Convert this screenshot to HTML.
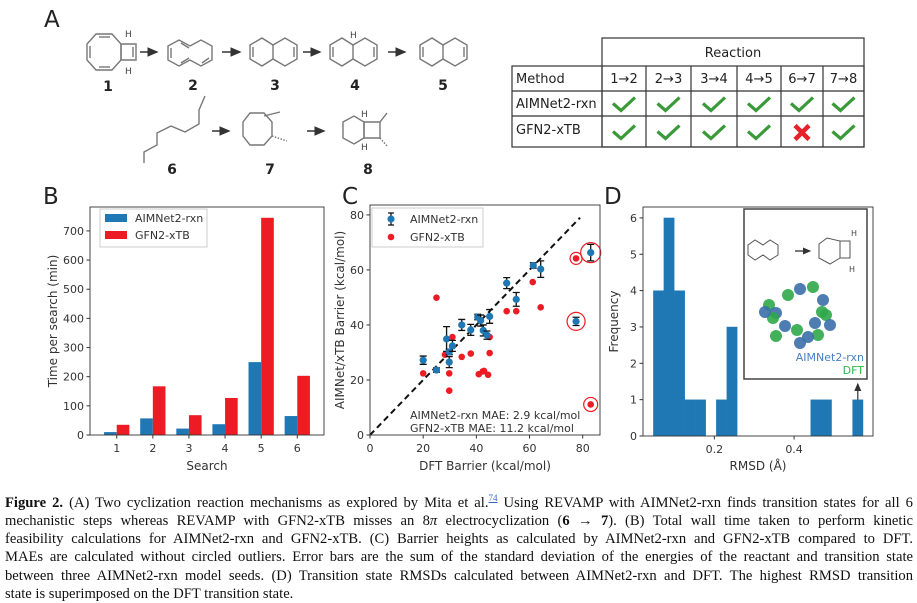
<!DOCTYPE html>
<html><head><meta charset="utf-8">
<style>
html,body{margin:0;padding:0;background:#fff;}
body{width:917px;height:602px;position:relative;overflow:hidden;}
svg{position:absolute;left:0;top:0;}
text{font-family:"DejaVu Sans","Liberation Sans",sans-serif;}
#caption{position:absolute;left:5px;top:489px;width:908px;font-family:"Liberation Serif",serif;font-size:14.6px;line-height:18.2px;color:#111;}
#caption div{text-align:justify;text-align-last:justify;white-space:nowrap;}
#caption div.last{text-align-last:left;}
</style></head><body>
<svg id="fig" width="917" height="602" viewBox="0 0 917 602" xmlns="http://www.w3.org/2000/svg">
<defs>
<marker id="ah" markerWidth="8" markerHeight="8" refX="6" refY="3" orient="auto"><path d="M0,0 L7,3 L0,6 z" fill="#333"/></marker>
</defs>
<text x="44" y="27" font-size="23" fill="#222">A</text>
<text x="43" y="204" font-size="23" fill="#222">B</text>
<text x="342" y="204" font-size="23" fill="#222">C</text>
<text x="604" y="204" font-size="23" fill="#222">D</text>

<g id="mol" stroke="#777" stroke-width="1.4" fill="none">
 <polygon points="96,34 112,34 121,44 121,60 112,70 96,70 87,60 87,44"/>
 <polygon points="121,44 136,44 136,60 121,60"/>
 <line x1="99" y1="37" x2="110" y2="37"/><line x1="90" y1="46" x2="90" y2="58"/><line x1="99" y1="67" x2="110" y2="67"/><line x1="133" y1="47" x2="133" y2="57"/>
 <polygon points="168,46 179,40 190,46 201,40 212,46 212,60 201,66 190,60 179,66 168,60"/>
 <line x1="171" y1="48" x2="171" y2="58"/><line x1="181" y1="43" x2="189" y2="48"/><line x1="202" y1="63" x2="209" y2="58"/><line x1="181" y1="63" x2="189" y2="58"/>
 <polygon points="250,45 262,38 273,45 285,38 297,45 297,59 285,66 273,59 262,66 250,59"/><line x1="273" y1="45" x2="273" y2="59"/>
 <line x1="253" y1="47" x2="253" y2="57"/><line x1="294" y1="47" x2="294" y2="57"/>
 <polygon points="330,45 342,38 353,45 365,38 377,45 377,59 365,66 353,59 342,66 330,59"/><line x1="353" y1="45" x2="353" y2="59"/>
 <line x1="333" y1="47" x2="333" y2="57"/><line x1="374" y1="47" x2="374" y2="57"/>
 <polygon points="420,45 432,38 443,45 455,38 467,45 467,59 455,66 443,59 432,66 420,59"/><line x1="443" y1="45" x2="443" y2="59"/>
 <line x1="423" y1="47" x2="423" y2="57"/><line x1="464" y1="47" x2="464" y2="57"/>
 <polyline points="144,163 144,152 157,145 157,133 171,126 185,132 199,124 199,110 205,96"/>
 <polygon points="250,113 264,113 272,122 272,136 264,145 250,145 243,136 243,122"/>
 <line x1="264" y1="116" x2="280" y2="112"/><line x1="272" y1="136" x2="287" y2="141" stroke-dasharray="1.5,1.5"/>
 <polygon points="343,122 354,116 364,122 364,138 354,144 343,138"/>
 <polygon points="364,122 380,122 380,138 364,138"/><line x1="380" y1="122" x2="387" y2="113"/><line x1="380" y1="138" x2="388" y2="147" stroke-dasharray="1.5,1.5"/>
</g>
<g fill="#444" font-size="9">
 <text x="125" y="37">H</text><text x="125" y="74">H</text><text x="350" y="38">H</text>
 <text x="361" y="117">H</text><text x="361" y="150">H</text>
</g>
<g stroke="#333" stroke-width="1.6" marker-end="url(#ah)">
 <line x1="140" y1="52" x2="157" y2="52"/><line x1="222" y1="52" x2="240" y2="52"/><line x1="303" y1="52" x2="320" y2="52"/><line x1="388" y1="52" x2="405" y2="52"/>
 <line x1="212" y1="131" x2="229" y2="131"/><line x1="307" y1="131" x2="324" y2="131"/>
</g>
<g font-size="14" font-weight="bold" fill="#222" text-anchor="middle">
 <text x="108" y="91">1</text><text x="193" y="90">2</text><text x="275" y="90">3</text><text x="355" y="90">4</text><text x="443" y="90">5</text>
 <text x="172" y="174">6</text><text x="270" y="174">7</text><text x="368" y="174">8</text>
</g>

<g id="tbl"></g>
<g id="chartB"></g>
<g id="chartC"></g>
<g id="chartD"></g>
</svg>

<div id="caption">
<div><b>Figure 2.</b> (A) Two cyclization reaction mechanisms as explored by Mita et al.<sup style="font-size:9px;color:#36c;text-decoration:underline">74</sup> Using REVAMP with AIMNet2-rxn finds transition states for all 6</div>
<div>mechanistic steps whereas REVAMP with GFN2-xTB misses an 8<i>π</i> electrocyclization (<b>6</b> → <b>7</b>). (B) Total wall time taken to perform kinetic</div>
<div>feasibility calculations for AIMNet2-rxn and GFN2-xTB. (C) Barrier heights as calculated by AIMNet2-rxn and GFN2-xTB compared to DFT.</div>
<div>MAEs are calculated without circled outliers. Error bars are the sum of the standard deviation of the energies of the reactant and transition state</div>
<div>between three AIMNet2-rxn model seeds. (D) Transition state RMSDs calculated between AIMNet2-rxn and DFT. The highest RMSD transition</div>
<div class="last">state is superimposed on the DFT transition state.</div>
</div>

<script>
const NS="http://www.w3.org/2000/svg";
function mk(p,tag,at,txt){const e=document.createElementNS(NS,tag);for(const k in at)e.setAttribute(k,at[k]);if(txt!==undefined)e.textContent=txt;p.appendChild(e);return e;}

const tableCols=["1→2","2→3","3→4","4→5","6→7","7→8"];
const tableMethods=["AIMNet2-rxn","GFN2-xTB"];
const tableResults=[[1,1,1,1,1,1],[1,1,1,1,0,1]];
(function(){
 const g=document.getElementById('tbl');
 const xs=[512,602,646,691,737,781,823,864], ys=[38,66,91,116,147];
 const st={stroke:"#333","stroke-width":1.2};
 mk(g,'rect',Object.assign({x:602,y:38,width:262,height:109,fill:"none"},st));
 mk(g,'rect',Object.assign({x:512,y:66,width:352,height:81,fill:"none"},st));
 for(let i=2;i<ys.length-1;i++) mk(g,'line',Object.assign({x1:512,x2:864,y1:ys[i],y2:ys[i]},st));
 for(let i=1;i<xs.length-1;i++) mk(g,'line',Object.assign({x1:xs[i],x2:xs[i],y1:66,y2:147},st));
 const h=mk(g,'text',{x:733,y:57,"font-size":13,"text-anchor":"middle",fill:"#222"},"Reaction");
 
 
 mk(g,'text',{x:516,y:83,"font-size":13,fill:"#222"},"Method");
 tableCols.forEach((c,i)=>{const t=mk(g,'text',{x:(xs[i+1]+xs[i+2])/2,y:83,"font-size":13,"text-anchor":"middle",fill:"#222"},c);
  
  });
 tableMethods.forEach((m,r)=>{
  mk(g,'text',{x:516,y:r===0?108:134,"font-size":13,fill:"#222"},m);
  tableResults[r].forEach((v,i)=>{
   const cx=(xs[i+1]+xs[i+2])/2, cy=(ys[r+2]+ys[r+3])/2+1;
   let e;
   if(v) e=mk(g,'path',{d:`M${cx-11},${cy-1} L${cx-3},${cy+6} L${cx+11},${cy-7}`,stroke:"#3a9a3a","stroke-width":3.2,fill:"none"});
   else e=mk(g,'path',{d:`M${cx-7},${cy-7} L${cx+7},${cy+7} M${cx+7},${cy-7} L${cx-7},${cy+7}`,stroke:"#e8202a","stroke-width":4.5,fill:"none"});
   
   
  });
 });
})();

const searchCats=["1","2","3","4","5","6"];
const aimnetTime=[10,57,22,37,250,65];
const gfnTime=[35,167,68,127,745,203];
const bYTicks=[0,100,200,300,400,500,600,700];
(function(){
 const g=document.getElementById('chartB');
 const L=90,R=324,T=207,B=435,ymax=782;
 const sx=i=>L+(i+0.74)/(6.48)*(R-L), sy=v=>B-v/ymax*(B-T);
 const bw=0.35/6.48*(R-L);
 searchCats.forEach((c,i)=>{
  const b1=mk(g,'rect',{x:sx(i)-bw,y:sy(aimnetTime[i]),width:bw,height:B-sy(aimnetTime[i]),fill:"#1f77b4"});
  
  
  const b2=mk(g,'rect',{x:sx(i),y:sy(gfnTime[i]),width:bw,height:B-sy(gfnTime[i]),fill:"#ed1c24"});
  
  
  mk(g,'line',{x1:sx(i),x2:sx(i),y1:B,y2:B+3.5,stroke:"#333"});
  mk(g,'text',{x:sx(i),y:B+17,"font-size":11,"text-anchor":"middle",fill:"#333"},c);
 });
 bYTicks.forEach(v=>{mk(g,'line',{x1:L-3.5,x2:L,y1:sy(v),y2:sy(v),stroke:"#333"});
  mk(g,'text',{x:L-6,y:sy(v)+4,"font-size":11,"text-anchor":"end",fill:"#333"},v);});
 const ax=mk(g,'rect',{x:L,y:T,width:R-L,height:B-T,fill:"none",stroke:"#333","stroke-width":0.9});
 
 
 const xt=mk(g,'text',{x:(L+R)/2,y:470,"font-size":12,"text-anchor":"middle",fill:"#333"},"Search");
 
 
 const yt=mk(g,'text',{x:0,y:0,"font-size":12,"text-anchor":"middle",fill:"#333",transform:`translate(57,${(T+B)/2}) rotate(-90)`},"Time per search (min)");
 
 
 const lg=mk(g,'g',{});
 
 
 mk(lg,'rect',{x:100,y:209,width:107,height:38,fill:"#fff",stroke:"#ccc"});
 mk(lg,'rect',{x:105,y:214,width:22,height:8,fill:"#1f77b4"});
 mk(lg,'text',{x:135,y:222,"font-size":11,fill:"#333"},"AIMNet2-rxn");
 mk(lg,'rect',{x:105,y:231,width:22,height:8,fill:"#ed1c24"});
 mk(lg,'text',{x:135,y:239,"font-size":11,fill:"#333"},"GFN2-xTB");
})();

const aimDFT=[20,25,28.8,29.8,29.8,31,34.5,37.9,40.5,41.6,42.6,44,45,51.4,55,61.4,64.2,77.5,83];
const aimPred=[27.2,23.6,34.9,30.2,26.5,32.4,40,38.2,42.9,41.6,38,36.3,43.1,55.2,49.3,61.6,60.3,41.3,66.3];
const aimErr=[1.5,0.8,4.5,1,2,2,2,2,1,2,2,1.5,2.5,2,2.5,1,3,1.5,3];
const gfnDFT=[20,25,28.2,31,29.8,29.8,34.5,37.9,40.9,42.4,42.9,44.4,45,45,51.4,55,61.2,64.2,77.5,83];
const gfnPred=[22.4,49.9,29.2,35.6,22.4,16.1,28.4,29.6,22.1,23.1,23.3,21.9,35.6,29.8,45,45,55.6,46.4,64.2,11.1];
const outlierX=[77.5,83,77.5,83];
const outlierY=[64.2,66.3,41.3,11.1];
const outlierR=[6,10,9,7];
const cTicks=[0,20,40,60,80];
(function(){
 const g=document.getElementById('chartC');
 const L=370,R=600,T=205,B=435,xmax=86.5,ymax=83.6;
 const sx=v=>L+v/xmax*(R-L), sy=v=>B-v/ymax*(B-T);
 cTicks.forEach(v=>{
  mk(g,'line',{x1:sx(v),x2:sx(v),y1:B,y2:B+3.5,stroke:"#333"});
  mk(g,'text',{x:sx(v),y:B+17,"font-size":11,"text-anchor":"middle",fill:"#333"},v);
  mk(g,'line',{x1:L-3.5,x2:L,y1:sy(v),y2:sy(v),stroke:"#333"});
  mk(g,'text',{x:L-6,y:sy(v)+4,"font-size":11,"text-anchor":"end",fill:"#333"},v);
 });
 const dl=mk(g,'line',{x1:sx(0),y1:sy(0),x2:sx(79),y2:sy(79),stroke:"#111","stroke-width":2,"stroke-dasharray":"6,4"});
 
 
 gfnDFT.forEach((x,i)=>{const c=mk(g,'circle',{cx:sx(x),cy:sy(gfnPred[i]),r:3.3,fill:"#ed1c24"});
  
  });
 aimDFT.forEach((x,i)=>{
  const px=sx(x),y1=sy(aimPred[i]-aimErr[i]),y2=sy(aimPred[i]+aimErr[i]);
  mk(g,'path',{d:`M${px},${y1}L${px},${y2}M${px-3.5},${y1}L${px+3.5},${y1}M${px-3.5},${y2}L${px+3.5},${y2}`,stroke:"#111","stroke-width":1.3,fill:"none"});
  const c=mk(g,'circle',{cx:px,cy:sy(aimPred[i]),r:3.6,fill:"#1f77b4"});
  
  
 });
 outlierX.forEach((x,i)=>{const c=mk(g,'circle',{cx:sx(x),cy:sy(outlierY[i]),r:outlierR[i],fill:"none",stroke:"#ed1c24","stroke-width":1.2});
  
  });
 const ax=mk(g,'rect',{x:L,y:T,width:R-L,height:B-T,fill:"none",stroke:"#333","stroke-width":0.9});
 
 
 mk(g,'text',{x:410,y:419,"font-size":11,fill:"#333"},"AIMNet2-rxn MAE: 2.9 kcal/mol");
 mk(g,'text',{x:410,y:432,"font-size":11,fill:"#333"},"GFN2-xTB MAE: 11.2 kcal/mol");
 const xt=mk(g,'text',{x:(L+R)/2,y:470,"font-size":12,"text-anchor":"middle",fill:"#333"},"DFT Barrier (kcal/mol)");
 
 
 const yt=mk(g,'text',{x:0,y:0,"font-size":12,"text-anchor":"middle",fill:"#333",transform:`translate(344,${(T+B)/2}) rotate(-90)`},"AIMNet/xTB Barrier (kcal/mol)");
 
 
 const lg=mk(g,'g',{});
 
 
 mk(lg,'rect',{x:372,y:208,width:111,height:39,fill:"#fff",stroke:"#ccc"});
 mk(lg,'path',{d:"M391,213L391,225M388,213L394,213M388,225L394,225",stroke:"#111","stroke-width":1.3});
 mk(lg,'circle',{cx:391,cy:219,r:3.6,fill:"#1f77b4"});
 mk(lg,'text',{x:410,y:223,"font-size":11,fill:"#333"},"AIMNet2-rxn");
 mk(lg,'circle',{cx:391,cy:237,r:3.3,fill:"#ed1c24"});
 mk(lg,'text',{x:410,y:241,"font-size":11,fill:"#333"},"GFN2-xTB");
})();

const rmsdBinStart=0.047, rmsdBinWidth=0.0263;
const rmsdCounts=[4,6,4,1,1,0,1,3,0,0,0,0,0,0,0,1,1,0,0,1];
const dYTicks=[0,1,2,3,4,5,6];
const dXTicks=[0.2,0.4];
(function(){
 const g=document.getElementById('chartD');
 const L=643,R=873,T=207,B=436,xmin=0.021,xmax=0.598,ymax=6.3;
 const sx=v=>L+(v-xmin)/(xmax-xmin)*(R-L), sy=v=>B-v/ymax*(B-T);
 rmsdCounts.forEach((c,i)=>{ if(!c) return;
  const x0=sx(rmsdBinStart+i*rmsdBinWidth), x1=sx(rmsdBinStart+(i+1)*rmsdBinWidth);
  const r=mk(g,'rect',{x:x0,y:sy(c),width:x1-x0,height:B-sy(c),fill:"#1f77b4",stroke:"#1f77b4","stroke-width":0.3});
  
  
 });
 dYTicks.forEach(v=>{mk(g,'line',{x1:L-3.5,x2:L,y1:sy(v),y2:sy(v),stroke:"#333"});
  mk(g,'text',{x:L-6,y:sy(v)+4,"font-size":11,"text-anchor":"end",fill:"#333"},v);});
 dXTicks.forEach(v=>{mk(g,'line',{x1:sx(v),x2:sx(v),y1:B,y2:B+3.5,stroke:"#333"});
  mk(g,'text',{x:sx(v),y:B+17,"font-size":11,"text-anchor":"middle",fill:"#333"},v);});
 const ax=mk(g,'rect',{x:L,y:T,width:R-L,height:B-T,fill:"none",stroke:"#333","stroke-width":0.9});
 
 
 const xt=mk(g,'text',{x:(L+R)/2,y:470,"font-size":12,"text-anchor":"middle",fill:"#333"},"RMSD (Å)");
 
 
 const yt=mk(g,'text',{x:0,y:0,"font-size":12,"text-anchor":"middle",fill:"#333",transform:`translate(618,${(T+B)/2}) rotate(-90)`},"Frequency");
 
 
 const ins=mk(g,'g',{});
 
 
 mk(ins,'rect',{x:744,y:209,width:123,height:170,fill:"#fff",stroke:"#444","stroke-width":1.5});
 mk(ins,'polygon',{points:"748,245 755,240 763,245 770,240 778,245 778,255 770,260 763,255 755,260 748,255",fill:"none",stroke:"#555","stroke-width":1});
 mk(ins,'line',{x1:795,y1:251,x2:810,y2:251,stroke:"#222","stroke-width":1.2,"marker-end":"url(#ah)"});
 mk(ins,'polygon',{points:"819,244 827,238 840,241 840,258 830,264 819,258",fill:"none",stroke:"#555","stroke-width":1});
 mk(ins,'rect',{x:840,y:241,width:10,height:17,fill:"none",stroke:"#555","stroke-width":1});
 mk(ins,'text',{x:851,y:236,"font-size":8,fill:"#444"},"H");
 mk(ins,'text',{x:849,y:272,"font-size":8,fill:"#444"},"H");
 const atoms=[[769,305,0],[776,313,1],[788,295,0],[800,289,1],[813,287,0],[823,300,1],[826,315,0],[830,325,1],[818,335,0],[808,337,1],[797,330,0],[785,326,1],[773,318,0],[765,312,1],[776,336,0],[800,343,1],[822,312,0],[815,323,1]];
 atoms.forEach(a=>mk(ins,'circle',{cx:a[0],cy:a[1],r:6,fill:a[2]?"#3b6fa8":"#2fa84a",opacity:0.9}));
 mk(ins,'text',{x:864,y:361,"font-size":11,"text-anchor":"end",fill:"#4a80c4"},"AIMNet2-rxn");
 mk(ins,'text',{x:864,y:374,"font-size":11,"text-anchor":"end",fill:"#2fb84a"},"DFT");
 const ac=sx(rmsdBinStart+19.5*rmsdBinWidth);
 const ar=mk(g,'line',{x1:ac,y1:sy(1),x2:ac,y2:384,stroke:"#333","stroke-width":1.2,"marker-end":"url(#ah)"});
 
 
})();
</script>
</body></html>
